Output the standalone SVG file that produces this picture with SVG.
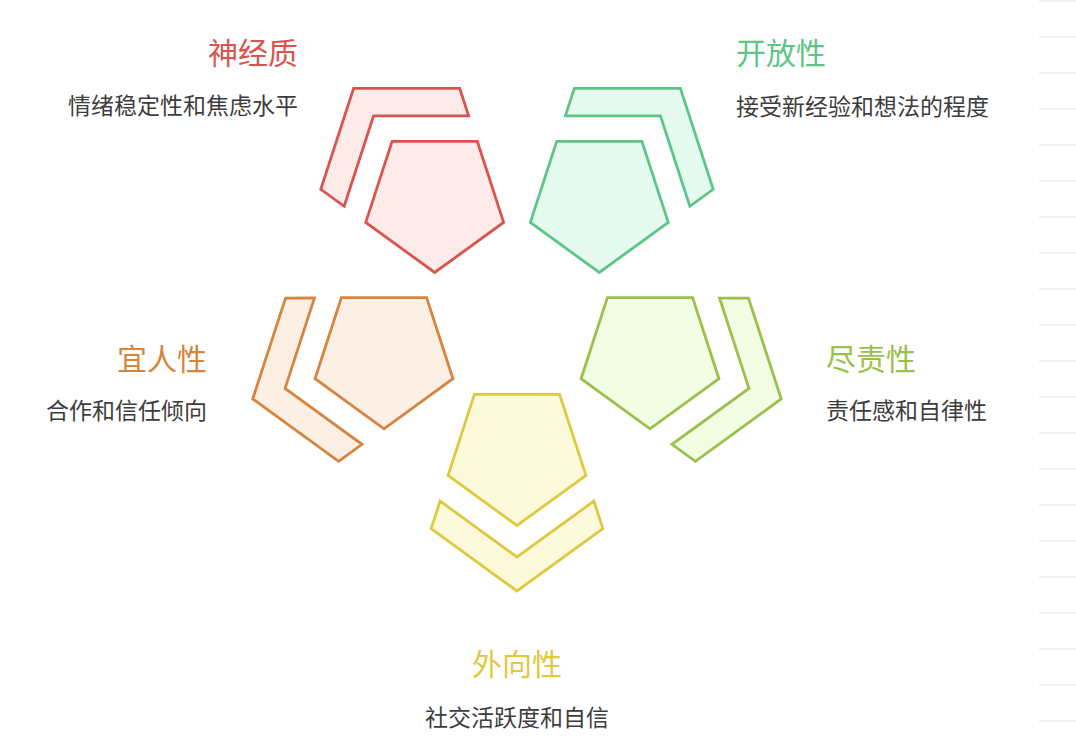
<svg xmlns="http://www.w3.org/2000/svg" xmlns:xlink="http://www.w3.org/1999/xlink" width="1076" height="756" viewBox="0 0 1076 756">
  <style>
    .shape { stroke-width: 2.8; stroke-linejoin: miter; }
    .red { fill: #fcebe9; stroke: #d9534f; }
    .green { fill: #e6fbef; stroke: #5ec587; }
    .orange { fill: #fcf0e5; stroke: #d6843e; }
    .lime { fill: #f3fde3; stroke: #9bc04b; }
    .yellow { fill: #fdf9db; stroke: #dfc940; }
    .title { font-family: "Noto Sans CJK SC", "Noto Sans", sans-serif; font-size: 30px; }
    .desc { font-family: "Noto Sans CJK SC", "Noto Sans", sans-serif; font-size: 23px; fill: #3d3d3d; }
    .t-red { fill: #d9534f; }
    .t-green { fill: #5ec587; }
    .t-orange { fill: #d6843e; }
    .t-lime { fill: #9bc04b; }
    .t-yellow { fill: #dfc940; }
    .rule { stroke: #ececec; stroke-width: 1.5; }
  </style>
  <defs>
    <path id="pent" d="M -42.61,-58.65 L 42.61,-58.65 L 68.95,22.40 L 0,72.5 L -68.95,22.40 Z"/>
    <path id="chev" d="M -81.11,-111.64 L 25,-111.64 L 33.94,-84.14 L -61.13,-84.14 L -90.5,6.26 L -113.9,-10.74 Z"/>
  </defs>
  <rect x="0" y="0" width="1076" height="756" fill="#ffffff"/>
  <g id="side-rules">
    <line class="rule" x1="1039" y1="1" x2="1076" y2="1"/>
    <line class="rule" x1="1039" y1="37" x2="1076" y2="37"/>
    <line class="rule" x1="1039" y1="73" x2="1076" y2="73"/>
    <line class="rule" x1="1039" y1="109" x2="1076" y2="109"/>
    <line class="rule" x1="1039" y1="145" x2="1076" y2="145"/>
    <line class="rule" x1="1039" y1="181" x2="1076" y2="181"/>
    <line class="rule" x1="1039" y1="217" x2="1076" y2="217"/>
    <line class="rule" x1="1039" y1="253" x2="1076" y2="253"/>
    <line class="rule" x1="1039" y1="289" x2="1076" y2="289"/>
    <line class="rule" x1="1039" y1="325" x2="1076" y2="325"/>
    <line class="rule" x1="1039" y1="361" x2="1076" y2="361"/>
    <line class="rule" x1="1039" y1="397" x2="1076" y2="397"/>
    <line class="rule" x1="1039" y1="433" x2="1076" y2="433"/>
    <line class="rule" x1="1039" y1="469" x2="1076" y2="469"/>
    <line class="rule" x1="1039" y1="505" x2="1076" y2="505"/>
    <line class="rule" x1="1039" y1="541" x2="1076" y2="541"/>
    <line class="rule" x1="1039" y1="577" x2="1076" y2="577"/>
    <line class="rule" x1="1039" y1="613" x2="1076" y2="613"/>
    <line class="rule" x1="1039" y1="649" x2="1076" y2="649"/>
    <line class="rule" x1="1039" y1="685" x2="1076" y2="685"/>
    <line class="rule" x1="1039" y1="721" x2="1076" y2="721"/>
  </g>
  <g id="connectors"></g>
  <g id="node-neuroticism">
    <use xlink:href="#chev" href="#chev" class="shape red" transform="translate(434.7,200)"/>
    <use xlink:href="#pent" href="#pent" class="shape red" transform="translate(434.7,200)"/>
    <text class="title t-red" x="298" y="63.5" text-anchor="end">神经质</text>
    <text class="desc" x="298" y="114" text-anchor="end">情绪稳定性和焦虑水平</text>
  </g>
  <g id="node-openness">
    <use xlink:href="#chev" href="#chev" class="shape green" transform="translate(599.3,200) rotate(72)"/>
    <use xlink:href="#pent" href="#pent" class="shape green" transform="translate(599.3,200)"/>
    <text class="title t-green" x="736" y="64" text-anchor="start">开放性</text>
    <text class="desc" x="736" y="114.5" text-anchor="start">接受新经验和想法的程度</text>
  </g>
  <g id="node-agreeableness">
    <use xlink:href="#chev" href="#chev" class="shape orange" transform="translate(384,356.3) rotate(288)"/>
    <use xlink:href="#pent" href="#pent" class="shape orange" transform="translate(384,356.3)"/>
    <text class="title t-orange" x="207" y="370" text-anchor="end">宜人性</text>
    <text class="desc" x="207" y="419" text-anchor="end">合作和信任倾向</text>
  </g>
  <g id="node-conscientiousness">
    <use xlink:href="#chev" href="#chev" class="shape lime" transform="translate(650,356.3) rotate(144)"/>
    <use xlink:href="#pent" href="#pent" class="shape lime" transform="translate(650,356.3)"/>
    <text class="title t-lime" x="826" y="370" text-anchor="start">尽责性</text>
    <text class="desc" x="826" y="419" text-anchor="start">责任感和自律性</text>
  </g>
  <g id="node-extraversion">
    <use xlink:href="#chev" href="#chev" class="shape yellow" transform="translate(517,453) rotate(216)"/>
    <use xlink:href="#pent" href="#pent" class="shape yellow" transform="translate(517,453)"/>
    <text class="title t-yellow" x="517" y="674.5" text-anchor="middle">外向性</text>
    <text class="desc" x="517" y="726" text-anchor="middle">社交活跃度和自信</text>
  </g>
</svg>
